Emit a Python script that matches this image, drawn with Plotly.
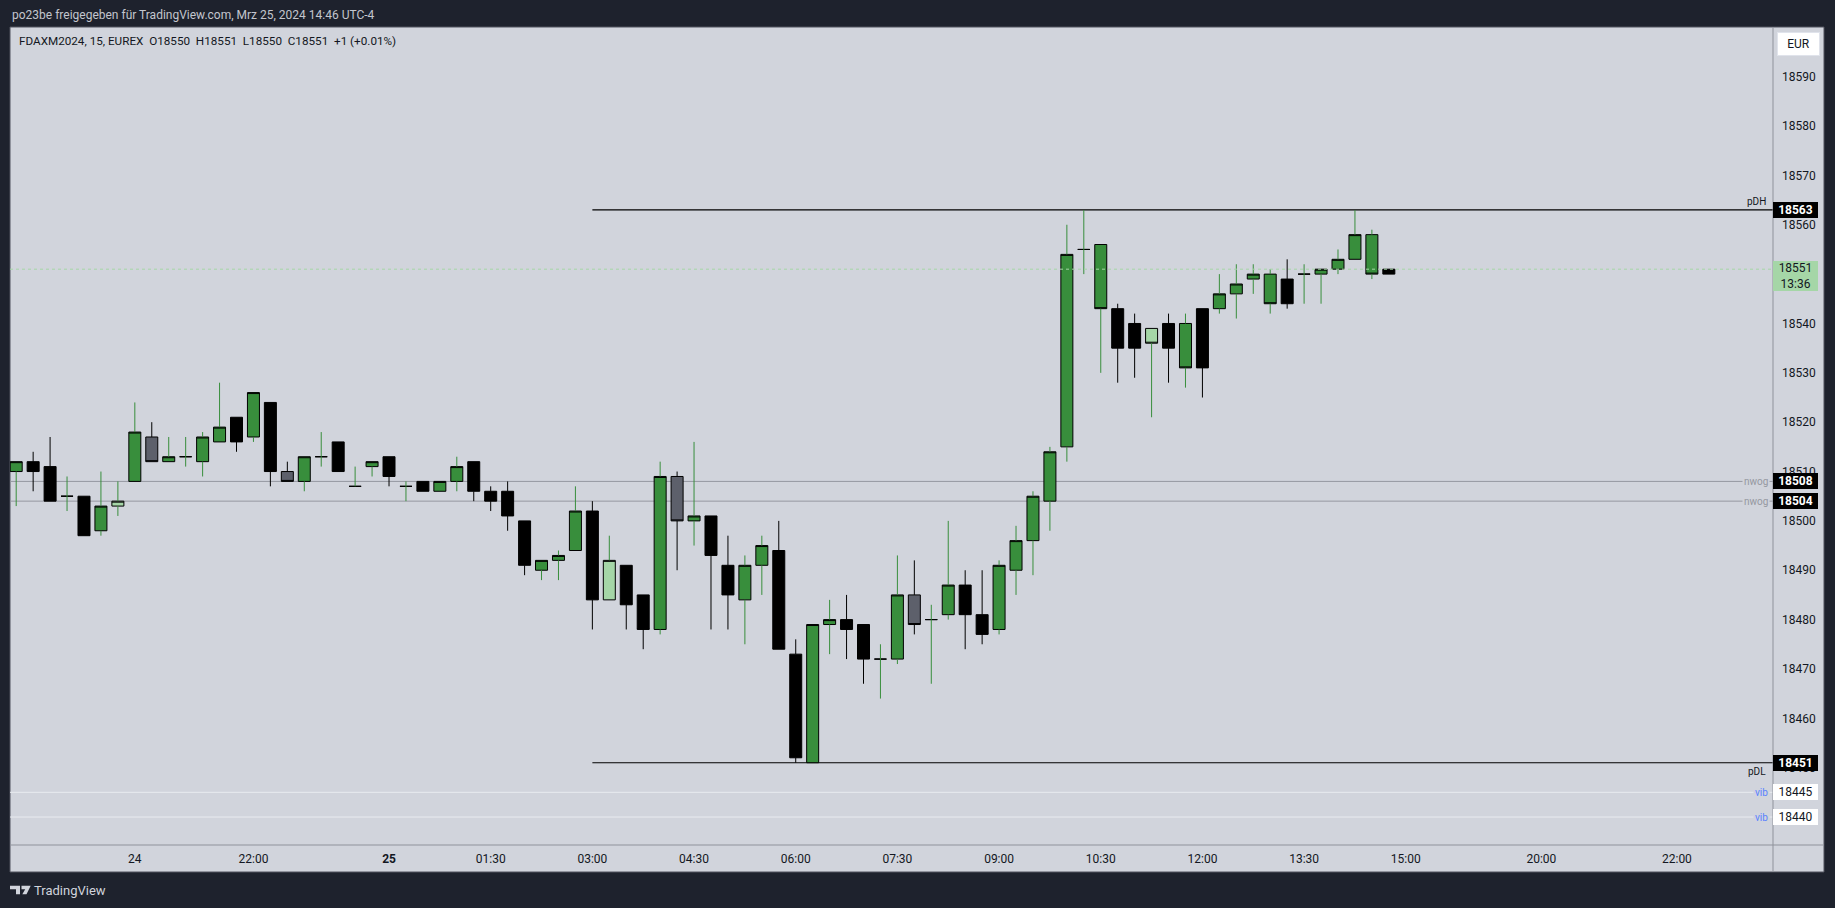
import plotly.graph_objects as go

# ---------------- data ----------------
bar_index = list(range(82))
opens = [18510, 18512, 18511, 18505, 18505, 18498, 18503, 18508, 18517, 18512,
         18513, 18512, 18516, 18521, 18517, 18524, 18510, 18508, 18513, 18516,
         18507, 18511, 18513, 18507, 18508, 18506, 18508, 18512, 18506, 18506,
         18500, 18490, 18492, 18494, 18502, 18484, 18491, 18485, 18478, 18509,
         18500, 18501, 18491, 18484, 18491, 18494, 18473, 18451, 18479, 18480,
         18479, 18472, 18472, 18485, 18480, 18481, 18487, 18481, 18478, 18490,
         18496, 18504, 18515, 18555, 18556, 18543, 18535, 18539, 18535, 18540,
         18531, 18543, 18546, 18549, 18550, 18544, 18550, 18550, 18551, 18553,
         18558, 18550]
highs = [18512, 18514, 18517, 18509, 18505, 18510, 18508, 18524, 18520, 18517,
         18517, 18518, 18528, 18521, 18526, 18524, 18512, 18513, 18518, 18516,
         18511, 18512, 18513, 18508, 18508, 18508, 18513, 18512, 18507, 18508,
         18500, 18492, 18494, 18507, 18504, 18497, 18491, 18485, 18512, 18510,
         18516, 18501, 18497, 18493, 18497, 18500, 18476, 18479, 18484, 18485,
         18479, 18475, 18493, 18492, 18483, 18500, 18490, 18490, 18492, 18499,
         18506, 18515, 18560, 18563, 18556, 18544, 18542, 18539, 18542, 18542,
         18543, 18550, 18552, 18552, 18551, 18553, 18552, 18551, 18555, 18563,
         18559, 18551]
lows = [18503, 18506, 18504, 18502, 18497, 18497, 18501, 18508, 18512, 18512,
        18511, 18509, 18516, 18514, 18516, 18507, 18508, 18506, 18511, 18510,
        18507, 18509, 18507, 18504, 18506, 18506, 18506, 18504, 18502, 18498,
        18489, 18488, 18488, 18494, 18478, 18484, 18478, 18474, 18477, 18490,
        18495, 18478, 18478, 18475, 18485, 18474, 18451, 18451, 18473, 18472,
        18467, 18464, 18471, 18477, 18467, 18480, 18474, 18475, 18477, 18485,
        18489, 18498, 18512, 18550, 18530, 18528, 18529, 18521, 18528, 18527,
        18525, 18542, 18541, 18546, 18542, 18543, 18544, 18544, 18550, 18553,
        18549, 18550]
closes = [18512, 18510, 18504, 18505, 18497, 18503, 18504, 18518, 18512, 18513,
          18513, 18517, 18519, 18516, 18526, 18510, 18508, 18513, 18513, 18510,
          18507, 18512, 18509, 18507, 18506, 18508, 18511, 18506, 18504, 18501,
          18491, 18492, 18493, 18502, 18484, 18492, 18483, 18478, 18509, 18500,
          18501, 18493, 18485, 18491, 18495, 18474, 18452, 18479, 18480, 18478,
          18472, 18472, 18485, 18479, 18480, 18487, 18481, 18477, 18491, 18496,
          18505, 18514, 18554, 18555, 18543, 18535, 18540, 18536, 18540, 18531,
          18543, 18546, 18548, 18550, 18544, 18549, 18550, 18551, 18553, 18558,
          18550, 18551]
# candle colouring class used by the chart: g=green, b=black, s=slate grey, l=light green
candle_kind = list("gbbgbglgsg" "gggbgbsggb" "ggbgbggbbb" "bgggblbbgs"
                   "gbbggbbggb" "bggsgg" "bbggg" "ggggbblbgb" "gggg" "bggggg" "bl")

tick_index = [7, 14, 22, 28, 34, 40, 46, 52, 58, 64, 70, 76, 82, 90, 98]
tick_labels = ["24", "22:00", "25", "01:30", "03:00", "04:30", "06:00", "07:30",
               "09:00", "10:30", "12:00", "13:30", "15:00", "20:00", "22:00"]
bold_labels = ["25"]

# 18550 is fully hidden behind the last-price box in the reference
price_ticks = [18450, 18460, 18470, 18480, 18490, 18500, 18510, 18520, 18530,
               18540, 18560, 18570, 18580, 18590]

level_names = ["pDH", "nwog", "nwog", "pDL", "vib", "vib"]
level_values = [18563, 18508, 18504, 18451, 18445, 18440]
level_start = [34, None, None, 34, None, None]

last_price = 18551
countdown = "13:36"
header = "FDAXM2024, 15, EUREX  O18550  H18551  L18550  C18551  +1 (+0.01%)"
title = "po23be freigegeben für TradingView.com, Mrz 25, 2024 14:46 UTC-4"

# ---------------- geometry / style ----------------
W, H = 1835, 908
PL, PR, PT, PB = 10, 1773, 27, 845
PANEL_R, PANEL_B = 1824, 872
X_RANGE = [-0.366, 103.67]
Y_RANGE = [18434.33, 18600.07]
FONT = "Roboto"
BG = "#d1d4dc"
DARK = "#1e222d"
TXT = "#131722"

body_color = {"g": "#388e3c", "b": "#000000", "s": "#5d606b", "l": "#a5d6a7"}
wick_color = {"g": "#388e3c", "b": "#000000", "s": "#000000", "l": "#388e3c"}


def px(x):
    return (x - PL) / (PR - PL)


def py(y):
    return (PB - y) / (PB - PT)


fig = go.Figure()

# wicks (only the parts outside the bodies)
for wc in ["#388e3c", "#000000"]:
    xs, ys = [], []
    for i, o, h, l, c, k in zip(bar_index, opens, highs, lows, closes, candle_kind):
        if wick_color[k] != wc:
            continue
        top, bot = max(o, c), min(o, c)
        if h > top:
            xs += [i, i, None]
            ys += [top, h, None]
        if l < bot:
            xs += [i, i, None]
            ys += [l, bot, None]
    fig.add_trace(go.Scatter(x=xs, y=ys, mode="lines",
                             line=dict(color=wc, width=1),
                             hoverinfo="skip", showlegend=False))

# bodies
for k in ["g", "b", "s", "l"]:
    idx = [j for j in bar_index if candle_kind[j] == k]
    o = [opens[j] for j in idx]
    c = [closes[j] for j in idx]
    fig.add_trace(go.Candlestick(
        x=idx, open=o, close=c,
        high=[max(a, b) for a, b in zip(o, c)],
        low=[min(a, b) for a, b in zip(o, c)],
        increasing=dict(fillcolor=body_color[k], line=dict(color="#000000", width=1)),
        decreasing=dict(fillcolor=body_color[k], line=dict(color="#000000", width=1)),
        whiskerwidth=0, hoverinfo="skip", showlegend=False))

shapes = []
# panel background + separators
shapes.append(dict(type="rect", xref="paper", yref="paper", layer="below",
                   x0=px(PL), x1=px(PANEL_R), y0=py(PANEL_B), y1=py(PT),
                   fillcolor=BG, line=dict(color="#50535e", width=1)))
shapes.append(dict(type="line", xref="paper", yref="paper", layer="above",
                   x0=px(PR), x1=px(PR), y0=py(PANEL_B), y1=py(PT),
                   line=dict(color="#8f929b", width=1)))
shapes.append(dict(type="line", xref="paper", yref="paper", layer="above",
                   x0=px(PL), x1=px(PANEL_R), y0=py(PB), y1=py(PB),
                   line=dict(color="#8f929b", width=1)))

level_line = {"pDH": ("#000000", 1.2), "pDL": ("#000000", 1.2),
              "nwog": ("#9598a1", 1), "vib": ("#e9ebf0", 1)}
for name, val, start in zip(level_names, level_values, level_start):
    col, wid = level_line[name]
    shapes.append(dict(type="line", xref="x", yref="y", layer="below",
                       x0=X_RANGE[0] if start is None else start, x1=X_RANGE[1],
                       y0=val, y1=val, line=dict(color=col, width=wid)))

# last price dotted line
shapes.append(dict(type="line", xref="x", yref="y", layer="above",
                   x0=X_RANGE[0], x1=X_RANGE[1], y0=last_price, y1=last_price,
                   line=dict(color="#a5d6a7", width=1, dash="dot")))


# TradingView logo (bottom-left)
def pth(points):
    return "M " + " L ".join(f"{px(a):.6f},{py(b):.6f}" for a, b in points) + " Z"


shapes.append(dict(type="path", xref="paper", yref="paper", layer="above",
                   path=pth([(10, 885.7), (20, 885.7), (20, 894.3), (16, 894.3), (16, 889.2), (10, 889.2)]),
                   fillcolor="#d1d4dc", line=dict(width=0)))
shapes.append(dict(type="path", xref="paper", yref="paper", layer="above",
                   path=pth([(21.5, 885.7), (30.7, 885.7), (26.5, 894.3), (22.3, 894.3), (25.2, 889.2), (21.5, 889.2)]),
                   fillcolor="#d1d4dc", line=dict(width=0)))

annotations = []
# top title
annotations.append(dict(xref="paper", yref="paper", x=px(10), y=py(15), xanchor="left",
                        yanchor="middle", showarrow=False, text=title,
                        font=dict(family=FONT, size=12, color="#c3c6ce")))
# header inside the chart
annotations.append(dict(xref="paper", yref="paper", x=px(17), y=py(41), xanchor="left",
                        yanchor="middle", showarrow=False, text=header.replace(" ", "\u00a0"),
                        font=dict(family=FONT, size=11.7, color=TXT)))
# bottom logo text
annotations.append(dict(xref="paper", yref="paper", x=px(32), y=py(890), xanchor="left",
                        yanchor="middle", showarrow=False, text="TradingView",
                        font=dict(family=FONT, size=13, color="#d1d4dc")))
# EUR button
annotations.append(dict(xref="paper", yref="paper", x=px(1798.3), y=py(43.9), xanchor="center",
                        yanchor="middle", showarrow=False, text="EUR", width=41, height=22,
                        bgcolor="#ffffff", bordercolor="#e0e3eb", borderwidth=1, borderpad=0,
                        font=dict(family=FONT, size=12, color=TXT)))

# level labels: on-chart text and axis boxes
label_font = {"pDH": TXT, "pDL": TXT, "nwog": "#9598a1", "vib": "#5a82ff"}
for name, val in zip(level_names, level_values):
    if name == "pDH":
        annotations.append(dict(xref="paper", yref="y", x=px(1768), y=val, xanchor="right",
                                yanchor="bottom", yshift=1, showarrow=False, text=name,
                                font=dict(family=FONT, size=10, color=label_font[name])))
    elif name == "pDL":
        annotations.append(dict(xref="paper", yref="y", x=px(1768), y=val, xanchor="right",
                                yanchor="top", yshift=-1, showarrow=False, text=name,
                                font=dict(family=FONT, size=10, color=label_font[name])))
    else:
        annotations.append(dict(xref="paper", yref="y", x=px(1770), y=val, xanchor="right",
                                yanchor="middle", showarrow=False, text=name, bgcolor=BG,
                                borderpad=1,
                                font=dict(family=FONT, size=10, color=label_font[name])))
    dark = name != "vib"
    annotations.append(dict(xref="paper", yref="y", x=1.0, y=val, xanchor="left",
                            yanchor="middle", showarrow=False,
                            text=f"<b>{val}</b>" if dark else str(val),
                            width=45, height=16, borderpad=0, borderwidth=0,
                            bgcolor="#000000" if dark else "#ffffff",
                            font=dict(family=FONT, size=12,
                                      color="#ffffff" if dark else TXT)))

# last price box with countdown
annotations.append(dict(xref="paper", yref="y", x=1.0, y=last_price, xanchor="left",
                        yanchor="middle", yshift=-7.3, showarrow=False,
                        text=f"{last_price}<br>{countdown}", width=45, height=30,
                        borderpad=0, borderwidth=0, bgcolor="#a5d6a7",
                        font=dict(family=FONT, size=12, color=TXT)))

fig.update_layout(
    width=W, height=H, autosize=False,
    margin=dict(l=PL, r=W - PR, t=PT, b=H - PB, pad=0),
    paper_bgcolor=DARK, plot_bgcolor=BG,
    showlegend=False, boxgap=0.292, boxgroupgap=0,
    font=dict(family=FONT, size=12, color=TXT),
    xaxis=dict(range=X_RANGE, tickmode="array", tickvals=tick_index,
               ticktext=[f"<b>{t}</b>" if t in bold_labels else t for t in tick_labels],
               showgrid=False, zeroline=False, showline=False, ticks="",
               rangeslider=dict(visible=False), automargin=False, fixedrange=True,
               tickfont=dict(family=FONT, size=12, color=TXT), ticklabelstandoff=5),
    yaxis=dict(side="right", range=Y_RANGE, tickmode="array", tickvals=price_ticks,
               ticktext=[str(v) for v in price_ticks], showgrid=False, zeroline=False,
               showline=False, ticks="", automargin=False, ticklabelstandoff=8,
               fixedrange=True, tickfont=dict(family=FONT, size=12, color=TXT)),
    shapes=shapes, annotations=annotations,
)

fig.write_html(
    "out.html",
    config={"displayModeBar": False, "staticPlot": True},
    post_script="document.body.style.margin='0';document.body.style.overflow='hidden';"
                "document.documentElement.style.background='#1e222d';",
)
